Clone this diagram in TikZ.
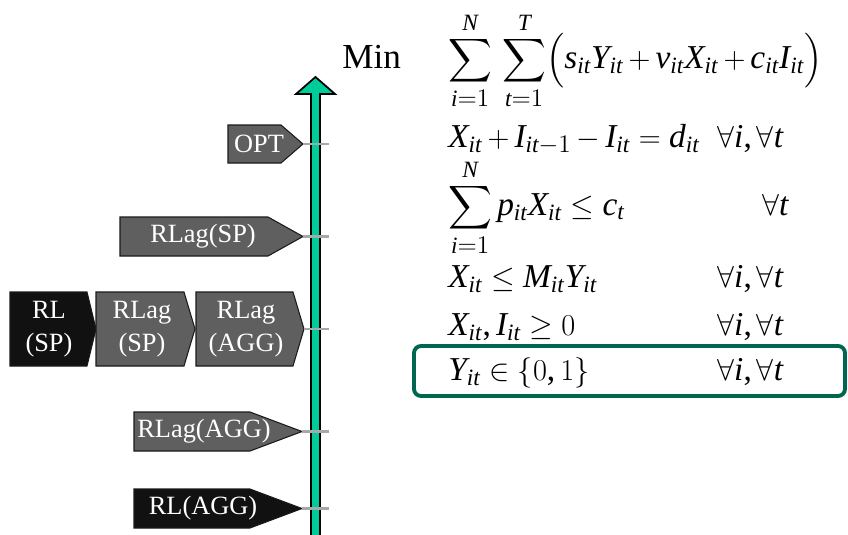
\documentclass[tikz,border=0pt]{standalone}
\usepackage{amsmath}
\usepackage{fontspec}
\setmainfont{Liberation Serif}
\DeclareSymbolFont{letters}{TU}{\rmdefault}{m}{it}
\DeclareMathSymbol{,}{\mathpunct}{operators}{`,}
\medmuskip=3mu plus 2mu minus 3mu
\definecolor{axisgreen}{HTML}{00CC99}
\definecolor{tagdark}{HTML}{5F5F5F}
\definecolor{tagblack}{HTML}{111111}
\definecolor{tagline}{HTML}{1A1A1A}
\definecolor{tickgray}{HTML}{A8A8A8}
\definecolor{boxgreen}{HTML}{00664F}

\begin{document}
\begin{tikzpicture}[x=0.02cm,y=-0.02cm,line join=miter,
  tagtext/.style={text=white,font=\fontsize{15}{18.5}\selectfont,align=center,inner sep=0pt},
  tick/.style={draw=tickgray,line width=1.7pt},
  eq/.style={anchor=base west,inner sep=0pt,font=\fontsize{19}{23}\selectfont}]
  \useasboundingbox (0,0) rectangle (848,534);
  % bound axis
  \draw[fill=axisgreen,line width=1pt] (311,540) -- (311,94) -- (296,94) -- (315.5,77)
    -- (335,94) -- (320,94) -- (320,540);
  \coordinate (axr) at (329,0);
  % relaxations
  \foreach \nm/\xa/\xb/\xc/\ya/\yb/\col/\cx/\tx in {
      opt/228/281/303/125/163/tagdark/259/OPT,
      rlagsp/120/268/303/217/256/tagdark/203/RLag(SP),
      rlsp/10/87/96/292/366/tagblack/49/{RL\\(SP)},
      rlagsp2/96/184/195/292/366/tagdark/142/{RLag\\(SP)},
      rlagagg/196/293/304/292/366/tagdark/246/{RLag\\(AGG)},
      rlagagg2/134/250/302/412/451/tagdark/204/RLag(AGG),
      rlagg/134/250/302/489/528/tagblack/203/RL(AGG)}{
    \draw[fill=\col,draw=tagline,line width=0.6pt] (\xa,\ya) -- (\xb,\ya) -- (\xc,{(\ya+\yb)/2})
      -- (\xb,\yb) -- (\xa,\yb) -- cycle;
    \coordinate (\nm-tip) at (\xc,{(\ya+\yb)/2});
    \node[tagtext] (\nm) at (\cx,{(\ya+\yb)/2}) {\tx};
  }
  \foreach \nm in {opt,rlagsp,rlagagg,rlagagg2,rlagg}
    \draw[tick] (\nm-tip) -- (\nm-tip -| axr);
  % model
  \node[anchor=base west,inner sep=0pt,font=\fontsize{20}{24}\selectfont] (min) at (342,68) {Min};
  \node[eq] (obj) at (448,68) {$\displaystyle\sum_{i=1}^{N}\,\sum_{t=1}^{T}\Bigl(s_{it}Y_{it}+v_{it}X_{it}+c_{it}I_{it}\Bigr)$};
  \node[eq] (bal) at (448,147) {$X_{it}+I_{it-1}-I_{it}=d_{it}$};
  \node[eq] (cap) at (448,215) {$\displaystyle\sum_{i=1}^{N}p_{it}X_{it}\le c_{t}$};
  \node[eq] (set) at (448,287) {$X_{it}\le M_{it}Y_{it}$};
  \node[eq] (nn) at (448,335) {$X_{it},I_{it}\ge 0$};
  \node[eq] (bin) at (448,380) {$Y_{it}\in\{0,1\}$};
  \node[eq] (balq) at (717,147) {$\forall i,\forall t$};
  \node[eq] (capq) at (762,215) {$\forall t$};
  \node[eq] (setq) at (717,287) {$\forall i,\forall t$};
  \node[eq] (nnq) at (717,335) {$\forall i,\forall t$};
  \node[eq] (binq) at (717,380) {$\forall i,\forall t$};
  \draw[boxgreen,line width=2.2pt,rounded corners=4pt] (414,346) rectangle (845,396);
\end{tikzpicture}
\end{document}
